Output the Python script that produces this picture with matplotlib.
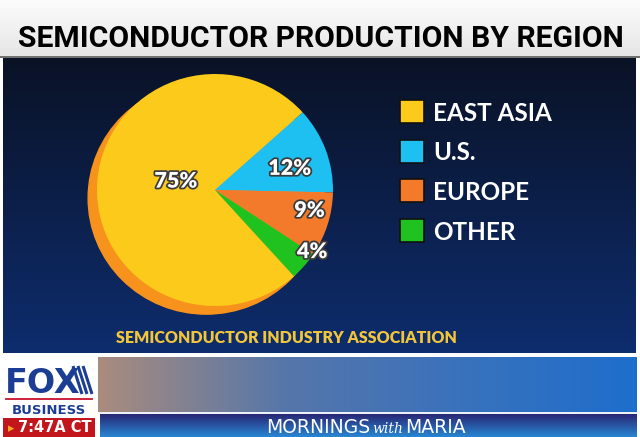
import numpy as np
import matplotlib
matplotlib.use('Agg')
import matplotlib.pyplot as plt
import matplotlib.patheffects as pe
from matplotlib import font_manager
from matplotlib.patches import Rectangle, Ellipse

regions = ['EAST ASIA', 'U.S.', 'EUROPE', 'OTHER']
shares = [75, 12, 9, 4]
pct_labels = ['75%', '12%', '9%', '4%']
colors = ['#fcca1a', '#1ec0f2', '#f27a2a', '#20c21f']

title = 'SEMICONDUCTOR PRODUCTION BY REGION'
source = 'SEMICONDUCTOR INDUSTRY ASSOCIATION'

names = {f.name for f in font_manager.fontManager.ttflist}
narrow = 'Liberation Sans Narrow' if 'Liberation Sans Narrow' in names else 'Roboto'
if narrow not in names:
    narrow = 'DejaVu Sans'
round_font = 'Lato' if 'Lato' in names else 'DejaVu Sans'

W, H = 640, 437
fig = plt.figure(figsize=(6.4, 4.37), dpi=100)
fig.patch.set_facecolor('white')
bg = fig.add_axes([0, 0, 1, 1])
bg.set_xlim(0, W)
bg.set_ylim(H, 0)
bg.axis('off')


def vgrad(c0, c1, n=200):
    t = np.linspace(0, 1, n)[:, None, None]
    return (np.array(c0)[None, None, :] * (1 - t) + np.array(c1)[None, None, :] * t) / 255.0


def fit_width(txt, target):
    fig.canvas.draw()
    bb = txt.get_window_extent()
    txt.set_fontsize(txt.get_fontsize() * target / bb.width)


# title band
bg.imshow(vgrad((252, 252, 252), (230, 230, 230)), extent=[0, W, 56, 0], aspect='auto', zorder=0)
bg.plot([0, W], [56.5, 56.5], color='#555555', lw=1.2, zorder=1)
t = bg.text(18, 47, title, ha='left', va='baseline', color='black',
            fontsize=24, fontweight='bold', family=narrow, zorder=2)
fit_width(t, 607)

# navy panel
bg.imshow(vgrad((10, 18, 38), (14, 45, 110)), extent=[3, 636, 353, 58], aspect='auto', zorder=0)

# pie
cx, cy, rx, ry = 215, 190, 118, 116
pax = fig.add_axes([(cx - rx) / W, (H - cy - ry) / H, 2 * rx / W, 2 * ry / H])
pax.add_patch(Ellipse((-0.075, -0.07), 2, 2, color='#f7931c', zorder=0, clip_on=False))
wedges, _ = pax.pie(shares, colors=colors, startangle=-48, counterclock=False,
                    wedgeprops=dict(linewidth=0))
for w in wedges:
    w.set_clip_on(False)
pax.set_aspect('auto')
pax.set_xlim(-1, 1)
pax.set_ylim(-1, 1)
pax.axis('off')

label_r = [0.34, 0.66, 0.82, 0.98]
label_da = [-10, -4, 5, 8]
for w, lab, r, da in zip(wedges, pct_labels, label_r, label_da):
    ang = np.deg2rad((w.theta1 + w.theta2) / 2 + da)
    pax.text(r * np.cos(ang), r * np.sin(ang), lab, ha='center', va='center',
             color='white', fontsize=15.5, fontweight='heavy', family=round_font,
             path_effects=[pe.withStroke(linewidth=2.5, foreground='#3b3b3b')], zorder=5)

# legend
for i, (reg, col) in enumerate(zip(regions, colors)):
    y0 = 100 + i * 39.5
    bg.add_patch(Rectangle((400, y0), 24, 23, facecolor=col, edgecolor='#111111', lw=1.2, zorder=3))
    bg.text(433, y0 + 21, reg, ha='left', va='baseline', color='white',
            fontsize=17.5, fontweight='bold', family=round_font, zorder=3)

src = bg.text(116, 343, source, ha='left', va='baseline', color='#f2c63a',
              fontsize=11.5, fontweight='heavy', family=round_font, zorder=3)
fit_width(src, 342)

# footer: photo strip and show bar
xs = np.linspace(0, 1, 300)
left = np.array([170, 140, 125])
mid = np.array([85, 118, 170])
right = np.array([30, 110, 205])
strip = np.where(xs[:, None] < 0.35,
                 left * (1 - xs[:, None] / 0.35) + mid * (xs[:, None] / 0.35),
                 mid * (1 - (xs[:, None] - 0.35) / 0.65) + right * ((xs[:, None] - 0.35) / 0.65))
bg.imshow((strip / 255.0)[None, :, :], extent=[98, 637, 412, 357], aspect='auto', zorder=0)
bg.plot([100, 637], [412.5, 412.5], color='#e8eef8', lw=1.2, zorder=1)
bg.imshow(vgrad((40, 38, 115), (40, 135, 212)), extent=[100, 637, 437, 414], aspect='auto', zorder=0)
bg.text(370, 433, 'MORNINGS', ha='right', va='baseline', color='white',
        fontsize=13.5, family='DejaVu Sans', zorder=3)
bg.text(388, 433, 'with', ha='center', va='baseline', color='white',
        fontsize=10, family='DejaVu Serif', style='italic', zorder=3)
bg.text(405, 433, 'MARIA', ha='left', va='baseline', color='white',
        fontsize=13.5, family='DejaVu Sans', zorder=3)

# logo box
bg.add_patch(Rectangle((3, 357), 94, 59, facecolor='white', edgecolor='none', zorder=1))
fox = '#1b3d93'
bg.text(5, 393, 'FOX', ha='left', va='baseline', color=fox, fontsize=24,
        fontweight='heavy', family='DejaVu Sans', zorder=3)
for k in range(3):
    x0 = 73 + k * 5
    bg.plot([x0, x0 + 9], [366, 394], color=fox, lw=2.2, solid_capstyle='butt', zorder=3)
bg.plot([6, 92], [398.5, 398.5], color='#c8102e', lw=1.3, zorder=3)
bg.text(49, 414, 'BUSINESS', ha='center', va='baseline', color=fox, fontsize=9.5,
        fontweight='bold', family='DejaVu Sans', zorder=3)
bg.add_patch(Rectangle((3, 417.5), 92, 19.5, facecolor='#c3161c', edgecolor='none', zorder=1))
bg.text(8, 432, '\u25b8', ha='left', va='baseline', color='#f5a623', fontsize=9, zorder=3)
bg.text(18, 432, '7:47A CT', ha='left', va='baseline', color='white', fontsize=10.5,
        fontweight='bold', family='DejaVu Sans', zorder=3)

fig.savefig('out.png', dpi=100, facecolor='white')
